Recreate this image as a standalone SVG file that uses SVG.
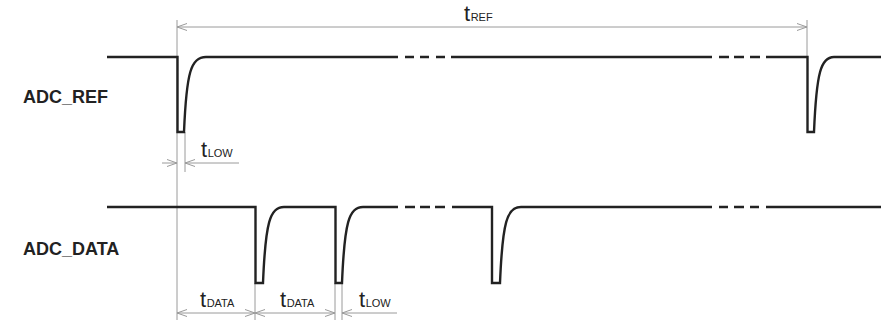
<svg xmlns="http://www.w3.org/2000/svg" width="883" height="325" viewBox="0 0 883 325">
<style>
.sig{fill:none;stroke:#222;stroke-width:2.4;stroke-linejoin:miter}
.dim{fill:none;stroke:#9a9a9a;stroke-width:1}
.lbl{font-family:"Liberation Sans",Arial,sans-serif;font-weight:bold;font-size:18px;fill:#222}
.t{font-family:"Liberation Sans",Arial,sans-serif;font-size:22px;fill:#222}
.sub{font-size:11px}
</style>
<defs>
<marker id="ah" viewBox="0 0 10 8" refX="10" refY="4" markerWidth="10" markerHeight="8" markerUnits="userSpaceOnUse" orient="auto-start-reverse">
<path d="M0,0.5 L10,4 L0,7.5" fill="none" stroke="#9a9a9a" stroke-width="1"/>
</marker>
</defs>
<rect width="883" height="325" fill="#fff"/>
<g id="labels">
<text class="lbl" x="23" y="103">ADC_REF</text>
<text class="lbl" x="23" y="255">ADC_DATA</text>
</g>
<g id="extension-lines">
<path class="dim" d="M177,20 V320 M807,20 V57 M185,132 V172 M255,283 V320 M335,283 V320 M342,283 V320"/>
</g>
<g id="adc-ref">
<path class="sig" d="M107,57 H177.5 V132 H184 C186.5,72 191,57 206,57 H398"/>
<path class="sig" d="M405,57 H414 M420,57 H429 M436,57 H445"/>
<path class="sig" d="M451,57 H712"/>
<path class="sig" d="M719,57 H729 M734,57 H744 M750,57 H760"/>
<path class="sig" d="M766,57 H807.5 V132 H814 C816.5,72 821,57 834,57 H881"/>
</g>
<g id="adc-data">
<path class="sig" d="M107,207 H255.5 V283 H263 C265.5,222 270,207 284,207 H335.5 V283 H342 C344.5,222 349,207 363,207 H398"/>
<path class="sig" d="M405,207 H415 M420,207 H430 M435,207 H445"/>
<path class="sig" d="M452,207 H492 V283 H500 C502.5,222 507,207 521,207 H712"/>
<path class="sig" d="M719,207 H728 M734,207 H744 M750,207 H759"/>
<path class="sig" d="M766,207 H881"/>
</g>
<g id="connectors">
<path class="dim" d="M177,27 H807" marker-start="url(#ah)" marker-end="url(#ah)"/>
<path class="dim" d="M162,163 H177" marker-end="url(#ah)"/>
<path class="dim" d="M239,163 H185" marker-end="url(#ah)"/>
<path class="dim" d="M177,313 H255" marker-start="url(#ah)" marker-end="url(#ah)"/>
<path class="dim" d="M255,313 H335" marker-start="url(#ah)" marker-end="url(#ah)"/>
<path class="dim" d="M397,313 H342" marker-end="url(#ah)"/>
</g>
<g id="dimension-labels">
<text class="t" x="464" y="21">t<tspan class="sub" dx="0.5">REF</tspan></text>
<text class="t" x="201" y="157">t<tspan class="sub" dx="0.5">LOW</tspan></text>
<text class="t" x="200" y="307">t<tspan class="sub" dx="0.5">DATA</tspan></text>
<text class="t" x="280" y="307">t<tspan class="sub" dx="0.5">DATA</tspan></text>
<text class="t" x="359" y="307">t<tspan class="sub" dx="0.5">LOW</tspan></text>
</g>
</svg>
